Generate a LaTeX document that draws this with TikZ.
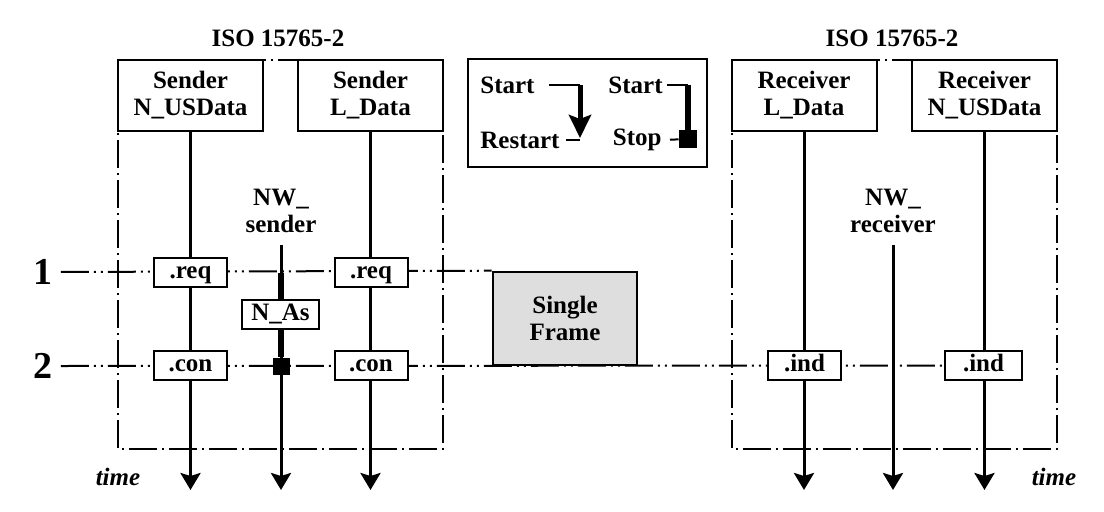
\documentclass[tikz,border=0pt]{standalone}
\usepackage{fontspec}
\setmainfont{Liberation Serif}
\usepackage{xcolor}
\definecolor{frameGray}{RGB}{222,222,222}
\usepackage{tikz}
\usetikzlibrary{arrows.meta,positioning,calc}
\pgfdeclarelayer{background}
\pgfsetlayers{background,main}
\tikzstyle{layerbox}=[draw, line width=1pt, fill=white, minimum width=72.5pt, minimum height=35.5pt, align=center, inner sep=1pt, font=\bfseries\fontsize{12.5}{13.5}\selectfont]
\tikzstyle{primbox}=[draw, line width=1pt, fill=white, minimum width=36.5pt, minimum height=14.5pt, inner sep=1pt, text height=8.5pt, text depth=2.8pt, font=\bfseries\fontsize{12.5}{13.5}\selectfont]
\tikzstyle{framebox}=[draw, line width=1.3pt, fill=frameGray, minimum width=72pt, minimum height=46.5pt, align=center, font=\bfseries\fontsize{12.5}{13.5}\selectfont]
\tikzstyle{label}=[font=\bfseries\fontsize{12.5}{13.5}\selectfont, align=center]
\tikzstyle{rowlabel}=[font=\bfseries\fontsize{19}{20}\selectfont, inner sep=4pt]
\tikzstyle{timelabel}=[font=\bfseries\itshape\fontsize{12.5}{13.5}\selectfont]
\tikzstyle{layerframe}=[line width=1pt, dash pattern=on 14pt off 2.5pt on 1pt off 2.5pt]
\tikzstyle{rowline}=[line width=1pt, dash pattern=on 14pt off 2.5pt on 1pt off 2.5pt on 1pt off 2.5pt]
\tikzstyle{lifeline}=[line width=1.5pt, -{Stealth[length=8.5pt,width=10pt,inset=1.5pt]}]
\tikzstyle{timerline}=[line width=3pt]
\tikzstyle{stopmark}=[fill=black, minimum size=8.5pt, inner sep=0pt]
\tikzstyle{legendarrow}=[line width=2.5pt, -{Stealth[length=11.5pt,width=11pt,inset=2pt]}]

\begin{document}
\begin{tikzpicture}[x=0.5pt, y=-0.5pt]
    \useasboundingbox (0,0) rectangle (1104,511);

    % Sender / Receiver
    \node[label] (isoL) at (278,38) {ISO 15765-2};
    \node[label] (isoR) at (892,38) {ISO 15765-2};
    \node[layerbox] (sndN) at (190.5,95.5) {Sender\\N\_USData};
    \node[layerbox] (sndL) at (370.5,95.5) {Sender\\L\_Data};
    \node[layerbox] (rcvL) at (804,95.5) {Receiver\\L\_Data};
    \node[layerbox] (rcvN) at (984.5,95.5) {Receiver\\N\_USData};
    \node[label] (nwS) at (281,211) {NW\_\\sender};
    \node[label] (nwR) at (893,211) {NW\_\\receiver};
    \coordinate (nwStop) at (281,245);
    \coordinate (nwRtop) at (893,245);

    % Primitive
    \node[rowlabel] (one) at (43,272) {1};
    \node[rowlabel] (two) at (43,366) {2};
    \node[primbox] (req1) at (190.5,272.5) {.req};
    \node[primbox] (req2) at (371,272.5) {.req};
    \node[primbox] (con1) at (190.5,365.5) {.con};
    \node[primbox] (con2) at (371,365.5) {.con};
    \node[primbox] (ind1) at (804.5,365.5) {.ind};
    \node[primbox, minimum width=38.5pt] (ind2) at (983.5,365.5) {.ind};
    \node[framebox] (frame) at (565,318.5) {Single\\Frame};

    % Timer N_As
    \node[stopmark] (asStop) at (281,366) {};
    \node[primbox, minimum width=38.5pt] (nAs) at (280.5,314.5) {N\_As};

    \node[timelabel] (timeL) at (118,477) {time};
    \node[timelabel] (timeR) at (1054,477) {time};

    \begin{pgfonlayer}{background}
      % Rahmen ISO 15765-2
      \draw[layerframe] (118,60) rectangle (443,449);
      \draw[layerframe] (732,60) rectangle (1057,449);
      % Zeitpunkte 1 und 2
      \draw[rowline] (one) -- (frame.north west);
      \draw[rowline] (two) -- (ind2);
      % Zeitachsen
      \foreach \src/\x in {sndN/190.5,sndL/370.5,rcvL/804,rcvN/984.5} {
        \draw[lifeline] (\src) -- (\x,490);
      }
      \draw[lifeline] (nwStop) -- (281,490);
      \draw[lifeline] (nwRtop) -- (893,490);
      \draw[timerline] (nwStop |- req1) -- (asStop);
    \end{pgfonlayer}

    % Legende
    \draw[line width=1pt] (468,59) rectangle (707,167);
    \node[label, anchor=west, inner xsep=0pt] (startA) at (480,85) {Start};
    \node[label, anchor=west, inner xsep=0pt] (restart) at (480,140) {Restart};
    \node[label, anchor=east, inner xsep=0pt] (startB) at (663,85) {Start};
    \node[label, anchor=east, inner xsep=0pt] (stopB) at (662,140) {Stop};
    \coordinate (tipA) at (580,138);
    \node[stopmark, minimum size=9pt] (legStop) at (688,139) {};
    \draw[line width=1pt, shorten <=7pt] (startA.east) -- (startA.east -| tipA);
    \draw[legendarrow] (startA.east -| tipA) -- (tipA);
    \draw[line width=1pt, shorten <=3pt] (restart.east) -- (restart.east -| tipA);
    \draw[line width=1pt, shorten <=2pt] (startB.east) -- (startB.east -| legStop);
    \draw[timerline] (startB.east -| legStop) -- (legStop);
    \draw[line width=1pt, shorten <=4pt] (stopB.east) -- (legStop);
\end{tikzpicture}
\end{document}
